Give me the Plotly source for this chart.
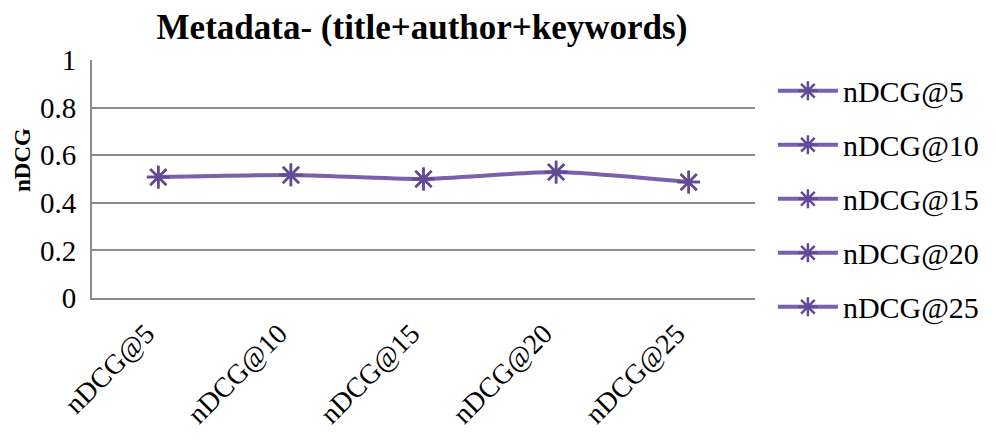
import plotly.graph_objects as go

# values
categories = ['nDCG@5', 'nDCG@10', 'nDCG@15', 'nDCG@20', 'nDCG@25']
ndcg_values = [0.508, 0.517, 0.500, 0.529, 0.487]
y_ticks = [0, 0.2, 0.4, 0.6, 0.8, 1]
y_tick_labels = ['0', '0.2', '0.4', '0.6', '0.8', '1']

line_color = '#7B5FAE'
marker_color = '#634A96'
serif = 'Liberation Serif, Times New Roman, serif'

fig = go.Figure()

# the connecting line (one series)
fig.add_trace(go.Scatter(
    x=categories,
    y=ndcg_values,
    mode='lines+markers',
    line=dict(color=line_color, width=4, shape='spline', smoothing=0.6),
    marker=dict(symbol='asterisk-open', size=19, color=marker_color,
                line=dict(color=marker_color, width=2.5)),
    showlegend=False,
    hoverinfo='skip'
))

# legend lists each category (vary colors by point style)
for i, (cat, val) in enumerate(zip(categories, ndcg_values)):
    fig.add_trace(go.Scatter(
        x=[cat],
        y=[val],
        name=cat,
        legendgroup=f'g{i}',
        mode='lines+markers',
        line=dict(color=line_color, width=4),
        marker=dict(symbol='asterisk-open', size=19, color=marker_color,
                    line=dict(color=marker_color, width=2.5)),
    ))

# page body has an 8px margin, so the figure is a bit smaller and offset
fig.update_layout(
    width=988, height=434,
    paper_bgcolor='white', plot_bgcolor='white',
    margin=dict(l=84, r=233, t=52, b=144),
    font=dict(family=serif, size=27, color='black'),
    title=dict(text='<b>Metadata- (title+author+keywords)</b>',
               x=0.419, xref='container', xanchor='center',
               y=0.957, yref='container', yanchor='middle',
               font=dict(family=serif, size=35, color='black')),
    xaxis=dict(
        type='category',
        range=[-0.5, 4.5],
        tickangle=-45,
        automargin=False,
        showgrid=False,
        showline=True, linecolor='#8C8C8C', linewidth=2,
        ticks='',
        ticklabelshift=-12,
        ticklabelstandoff=6,
        tickfont=dict(family=serif, size=28),
    ),
    yaxis=dict(
        range=[0, 1],
        tickvals=y_ticks,
        ticktext=y_tick_labels,
        automargin=False,
        showgrid=True, gridcolor='#8C8C8C', gridwidth=1.5,
        showline=True, linecolor='#8C8C8C', linewidth=2,
        zeroline=False,
        ticks='', ticklen=0,
        ticklabelstandoff=8,
        tickfont=dict(family=serif, size=29),
    ),
    annotations=[dict(
        text='<b>nDCG</b>', textangle=-90,
        x=-0.104, xref='paper', xanchor='center',
        y=0.58, yref='paper', yanchor='middle',
        showarrow=False,
        font=dict(family=serif, size=23, color='black'),
    )],
    legend=dict(
        x=1.027, xanchor='left', y=0.98, yanchor='top',
        font=dict(family=serif, size=30),
        itemwidth=60,
        tracegroupgap=12,
        maxheight=430,
        bgcolor='rgba(0,0,0,0)',
    ),
)

fig.write_html("out.html")
